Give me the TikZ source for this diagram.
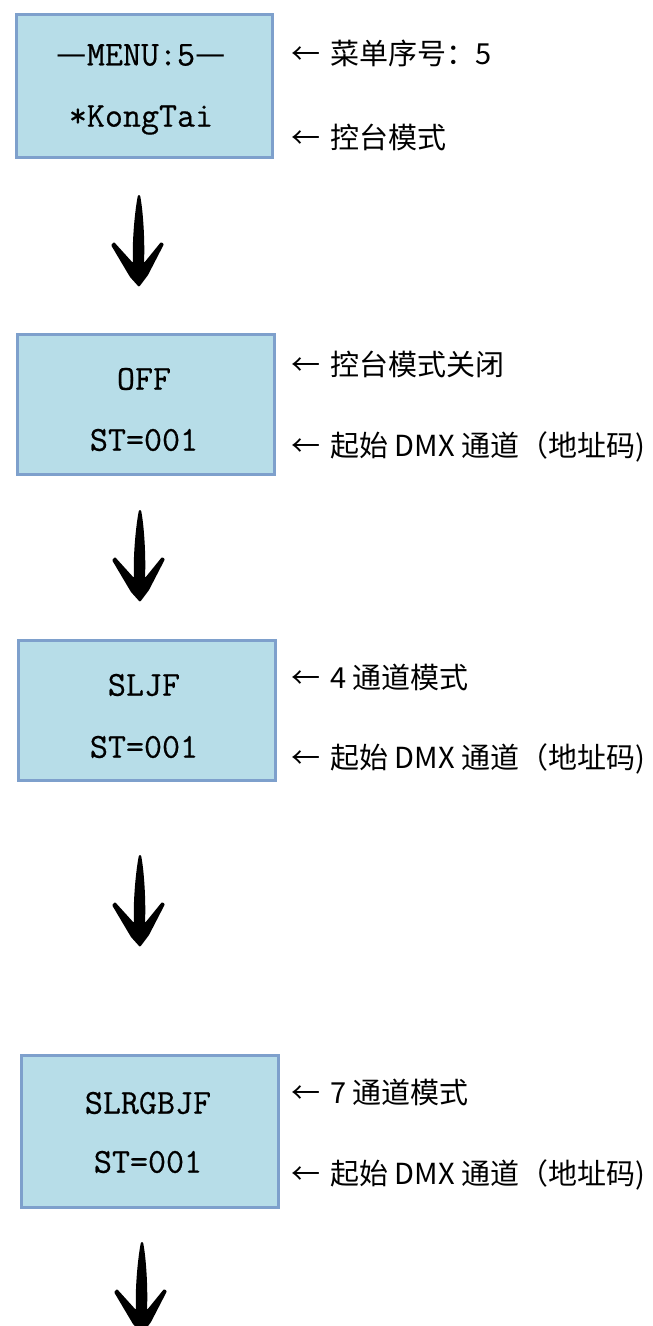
\documentclass[tikz,border=0pt]{standalone}
\usepackage{fontspec}
\newfontfamily\cjk{Noto Sans CJK SC}
\newfontfamily\lcdfont{Latin Modern Mono}[FakeBold=0.5]
\definecolor{boxfill}{RGB}{183,221,232}
\definecolor{boxline}{RGB}{126,160,204}
\tikzset{
  lcd/.style={draw=boxline, fill=boxfill, line width=3pt, anchor=north west, inner sep=0pt},
  lcdtext/.style={font=\fontsize{35}{35}\selectfont\lcdfont, anchor=center, inner sep=0pt},
  note/.style={font=\fontsize{29}{29}\selectfont\cjk, anchor=west, inner sep=0pt},
  brush/.pic={
    \fill[black, rounded corners=1pt]
      (0,92) -- (-9,82) -- (-28,50) -- (-25,47) -- (-6,68)
      .. controls (-7,45) and (-4,15) .. (-1,0) -- (1,0)
      .. controls (4,15) and (6,45) .. (5,68)
      -- (22,47) -- (25,49) -- (9,80) -- cycle;
  }
}
\newcommand{\ldash}{{\cjk\fontsize{34}{34}\selectfont —}}
\newcommand{\larr}{←\hspace{10pt}}
\begin{document}
\begin{tikzpicture}[x=1pt,y=-1pt]
\useasboundingbox (0,0) rectangle (653,1326);

% boxes
\node[lcd, minimum width=256pt, minimum height=143pt] (b1) at (15,13) {};
\node[lcd, minimum width=257pt, minimum height=140pt] (b2) at (16,333) {};
\node[lcd, minimum width=257pt, minimum height=140pt] (b3) at (17,639) {};
\node[lcd, minimum width=257pt, minimum height=152pt] (b4) at (20,1054) {};

% box texts
\node[lcdtext] (t1a) at (141,55) {\ldash MENU:5\ldash};
\node[lcdtext] (t1b) at (141,120) {*KongTai};
\node[lcdtext] (t2a) at (144,379) {OFF};
\node[lcdtext] (t2b) at (144,440) {ST=001};
\node[lcdtext] (t3a) at (144,685) {SLJF};
\node[lcdtext] (t3b) at (144,747) {ST=001};
\node[lcdtext] (t4a) at (148,1103) {SLRGBJF};
\node[lcdtext] (t4b) at (148,1162) {ST=001};

% labels
\node[note] (n1a) at (291,53) {\larr 菜单序号：5};
\node[note] (n1b) at (291,137) {\larr 控台模式};
\node[note] (n2a) at (291,364) {\larr 控台模式关闭};
\node[note] (n2b) at (291,447) {\larr 起始 DMX 通道（地址码)};
\node[note] (n3a) at (291,677) {\larr 4 通道模式};
\node[note] (n3b) at (291,759) {\larr 起始 DMX 通道（地址码)};
\node[note] (n4a) at (291,1092) {\larr 7 通道模式};
\node[note] (n4b) at (291,1175) {\larr 起始 DMX 通道（地址码)};

% brush arrows
\pic at (139,195) {brush};
\pic at (140,510) {brush};
\pic at (140,855) {brush};
\pic at (142,1242) {brush};
\end{tikzpicture}
\end{document}
